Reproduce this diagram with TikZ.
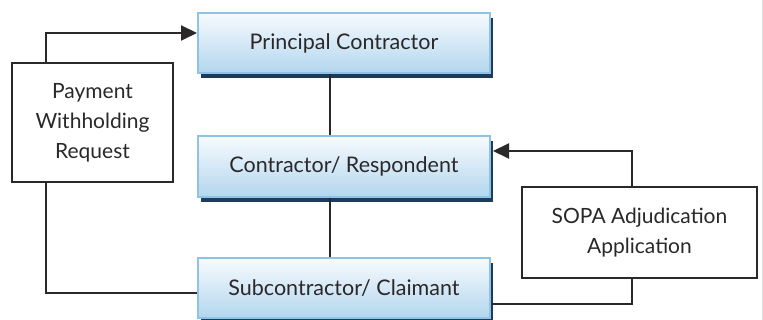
\documentclass[tikz,border=0pt]{standalone}
\usepackage{fontspec}
\setmainfont{Lato}
\usetikzlibrary{arrows.meta,shadows}
\definecolor{boxtop}{HTML}{F7FBFE}
\definecolor{boxbot}{HTML}{B3D6EE}
\definecolor{boxline}{HTML}{8FC3E6}
\definecolor{navy}{HTML}{1E3A5C}
\definecolor{ink}{HTML}{2A2829}
\tikzset{
  bluebox/.style={rectangle, draw=boxline, line width=2pt, top color=boxtop, bottom color=boxbot,
    minimum width=292pt, text=ink, font=\fontsize{21.5}{25}\selectfont,
    drop shadow={shadow xshift=3pt, shadow yshift=-5pt, fill=navy, opacity=1}},
  whitebox/.style={rectangle, draw=ink, line width=1.6pt, fill=white, text=ink,
    align=center, font=\fontsize{21}{30}\selectfont},
  conn/.style={draw=ink, line width=2pt},
  arr/.style={conn, -{Triangle[length=16pt,width=15pt]}}
}
\begin{document}
\begin{tikzpicture}[x=1pt,y=-1pt]
\useasboundingbox (0,0) rectangle (763,320);
\fill[white] (0,0) rectangle (763,320);
\draw[gray!25, line width=1pt] (762.3,0) -- (762.3,320);
\node[bluebox, minimum height=60pt] (pc) at (344,43) {Principal Contractor};
\node[bluebox, minimum height=61pt] (cr) at (344,166.5) {Contractor/ Respondent};
\node[bluebox, minimum height=60pt] (sc) at (344,288) {Subcontractor/ Claimant};
\node[whitebox, minimum width=161pt, minimum height=119pt] (pw) at (92.5,122.5) {Payment\\Withholding\\Request};
\node[whitebox, minimum width=235pt, minimum height=91pt] (sopa) at (639.5,232.5) {SOPA Adjudication\\Application};
\draw[conn] ([xshift=-14pt]pc.south) -- ([xshift=-14pt]cr.north);
\draw[conn] ([xshift=-14pt]cr.south) -- ([xshift=-14pt]sc.north);
\draw[arr] ([xshift=-46.5pt]pw.north) |- ([yshift=10pt]pc.west);
\draw[conn] ([xshift=-46.5pt]pw.south) |- ([yshift=-5pt]sc.west);
\draw[arr] ([xshift=-7.5pt]sopa.north) |- ([yshift=15.5pt,xshift=2pt]cr.east);
\draw[conn] ([xshift=-7.5pt]sopa.south) |- ([yshift=-16pt]sc.east);
\end{tikzpicture}
\end{document}
